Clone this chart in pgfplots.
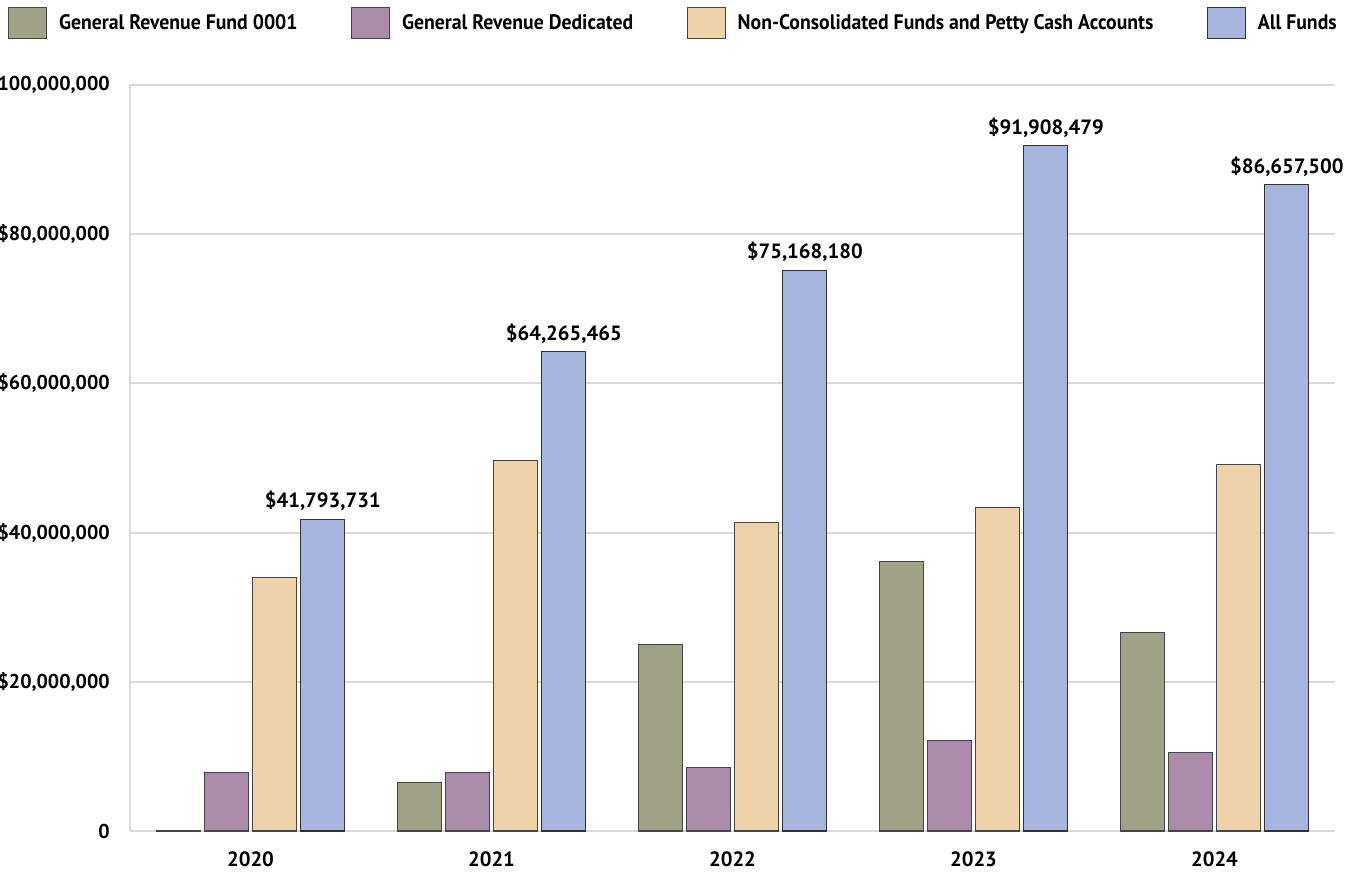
\documentclass[border=0pt]{standalone}
\usepackage{fontspec}
\setmainfont{PT Sans}[BoldFont={PT Sans Bold}]
\newfontfamily\legfont{PT Sans Bold}[FakeStretch=0.94]
\usepackage{pgfplots}
\usepackage{pgfplotstable}
\pgfplotsset{compat=1.18}
\definecolor{cGRF}{HTML}{A0A288}
\definecolor{cGRD}{HTML}{AA8BAA}
\definecolor{cNC}{HTML}{EED3AA}
\definecolor{cAll}{HTML}{A6B5DD}
\definecolor{gridc}{HTML}{D9D9D9}
\definecolor{edgec}{HTML}{454545}

% values in millions of dollars
\pgfplotstableread{
x y
0 0.12
1 6.47
2 25.06
3 36.07
4 26.62
}\grf
\pgfplotstableread{
x y
0 7.87
1 7.82
2 8.56
3 12.12
4 10.51
}\grd
\pgfplotstableread{
x y
0 34.0
1 49.7
2 41.34
3 43.42
4 49.18
}\noncons
\pgfplotstableread{
x y lab
0 41.793731 41,793,731
1 64.265465 64,265,465
2 75.168180 75,168,180
3 91.908479 91,908,479
4 86.657500 86,657,500
}\allf

\begin{document}
\begin{tikzpicture}[x=1pt,y=1pt]
\path[use as bounding box] (-97.5,-30) rectangle (916.5,623.25);
\begin{axis}[
  at={(0,0)}, anchor=south west,
  scale only axis, width=903.75pt, height=559.5pt,
  xmin=-0.5, xmax=4.5, ymin=0, ymax=100,
  xtick={0,1,2,3,4}, xticklabels={2020,2021,2022,2023,2024},
  ytick={0,20,40,60,80,100},
  yticklabels={0,{\$20,000,000},{\$40,000,000},{\$60,000,000},{\$80,000,000},{100,000,000}},
  major tick length=0pt,
  axis lines*=left,
  axis line style={draw=gridc, line width=1.5pt, -},
  ymajorgrids, grid style={draw=gridc, line width=1.5pt},
  xticklabel style={font=\bfseries\fontsize{15.5}{18}\selectfont, anchor=north, inner sep=0pt, yshift=-15.5pt},
  yticklabel style={font=\bfseries\fontsize{15}{18}\selectfont, anchor=east, inner sep=0pt, xshift=-15pt},
  legend columns=4,
  legend cell align=left,
  legend style={at={(-0.10124,1.1045)}, anchor=north west, draw=none, fill=none,
    inner sep=0pt, outer sep=0pt,
    font=\legfont\fontsize{15.75}{18}\selectfont,
    nodes={inner sep=0pt},
    /tikz/every odd column/.append style={column sep=9pt},
    /tikz/every even column/.append style={column sep=40pt}},
  legend image code/.code={\draw[#1] (0pt,-11.6pt) rectangle (28.5pt,11.6pt);},
]
\addplot[ybar, bar width=0.1826, bar shift=0pt, fill=cGRF, draw=edgec, line width=0.8pt]
  table[x expr=\thisrow{x}-0.3, y=y] {\grf};
\addlegendentry{General Revenue Fund 0001}
\addplot[ybar, bar width=0.1826, bar shift=0pt, fill=cGRD, draw=edgec, line width=0.8pt]
  table[x expr=\thisrow{x}-0.1, y=y] {\grd};
\addlegendentry{General Revenue Dedicated}
\addplot[ybar, bar width=0.1826, bar shift=0pt, fill=cNC, draw=edgec, line width=0.8pt]
  table[x expr=\thisrow{x}+0.1, y=y] {\noncons};
\addlegendentry{Non-Consolidated Funds and Petty Cash Accounts}
\addplot[ybar, bar width=0.1826, bar shift=0pt, fill=cAll, draw=black!80, line width=0.8pt,
  point meta=explicit symbolic,
  nodes near coords={\$\pgfplotspointmeta},
  every node near coord/.append style={font=\bfseries\fontsize{15.5}{18}\selectfont, anchor=base, inner sep=0pt, yshift=8.5pt, text=black}]
  table[x expr=\thisrow{x}+0.3, y=y, meta=lab] {\allf};
\addlegendentry{All Funds}
\end{axis}
\end{tikzpicture}
\end{document}
